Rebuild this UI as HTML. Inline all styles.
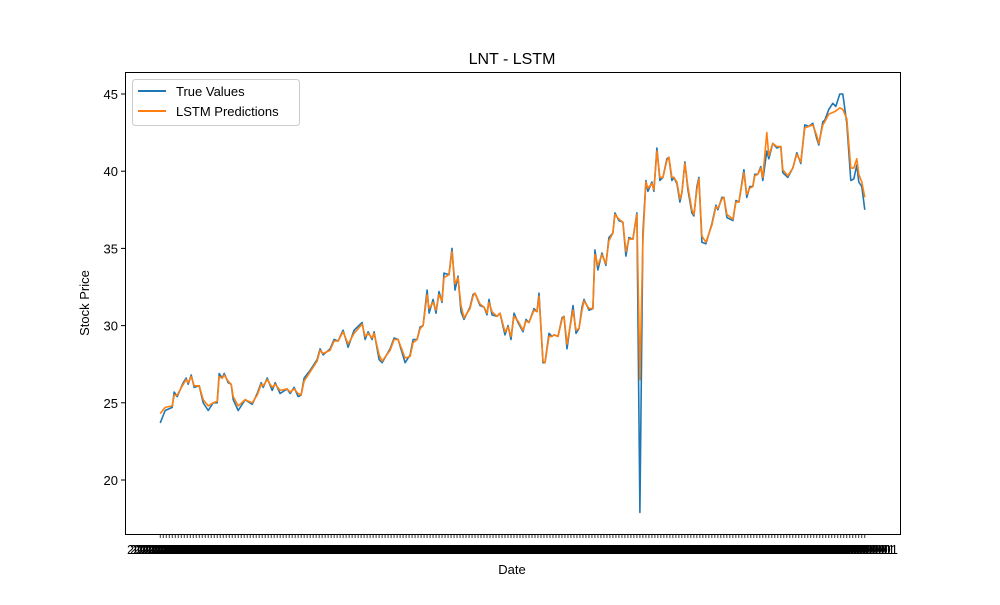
<!DOCTYPE html>
<html><head><meta charset="utf-8"><style>
body{margin:0;background:#fff;}
svg text{font-family:"Liberation Sans","DejaVu Sans",sans-serif;fill:#000;}
</style></head><body>
<svg id="chart" width="1000" height="600" xmlns="http://www.w3.org/2000/svg">
<rect width="1000" height="600" fill="#fff"/>
<text x="512" y="64" font-size="16" text-anchor="middle">LNT - LSTM</text>
<text x="512" y="574" font-size="13" text-anchor="middle">Date</text>
<text x="89" y="303" font-size="13" text-anchor="middle" transform="rotate(-90 89 303)">Stock Price</text>
<g id="ticks"></g>
<g id="series"></g>
<rect x="125.5" y="72.5" width="775" height="462" fill="none" stroke="#000" stroke-width="1"/>
<g>
<rect x="132.5" y="79.5" width="167" height="46" rx="3" fill="#fff" fill-opacity="0.8" stroke="#ccc"/>
<line x1="138" y1="91" x2="166" y2="91" stroke="#1f77b4" stroke-width="2"/>
<text x="176" y="96" font-size="13">True Values</text>
<line x1="138" y1="111" x2="166" y2="111" stroke="#ff7f0e" stroke-width="2"/>
<text x="176" y="116" font-size="13">LSTM Predictions</text>
</g>
</svg>
<script>
const days=[0,5,12,14,17,23,26,28,31,34,39,43,48,53,57,59,62,64,68,71,73,78,85,92,97,101,103,107,112,115,120,127,130,134,138,141,144,150,157,160,163,170,174,178,183,188,194,202,205,208,212,214,219,222,230,234,238,245,250,253,257,260,263,267,269,273,276,279,282,284,289,292,295,298,301,304,310,313,315,320,324,327,329,332,337,340,345,348,351,354,358,363,366,369,374,377,379,383,385,389,392,394,398,402,404,407,413,416,419,422,424,429,433,435,438,442,446,449,453,455,459,463,466,469,473,477,480,483,486,488,492,494,497,500,503,507,509,512,514,517,520,522,525,528,532,534,537,539,542,546,552,556,558,562,564,567,573,576,579,584,587,590,593,595,598,601,603,607,609,613,617,621,623,628,633,637,641,645,649,653,657,659,663,665,669,673,676,680,683,687,691,694,697,699,702,705];
const trueVals=[23.7,24.5,24.7,25.7,25.4,26.3,26.6,26.2,26.8,26.0,26.1,25.0,24.5,25.0,25.0,26.9,26.6,26.9,26.3,26.2,25.2,24.5,25.2,24.9,25.6,26.3,26.0,26.6,25.8,26.3,25.6,25.9,25.6,26.0,25.4,25.5,26.6,27.1,27.8,28.5,28.1,28.5,29.1,29.0,29.7,28.6,29.7,30.2,29.1,29.6,29.1,29.6,27.8,27.6,28.5,29.2,29.1,27.6,28.1,29.1,29.1,29.9,30.0,32.3,30.8,31.7,30.8,32.2,31.5,33.4,33.3,35.0,32.3,33.2,30.9,30.4,31.2,32.0,32.1,31.3,31.2,30.7,31.7,30.7,30.6,30.8,29.4,30.0,29.1,30.8,30.2,29.6,30.4,30.2,31.1,30.9,32.1,27.6,27.6,29.5,29.3,29.4,29.3,30.5,30.6,28.5,31.3,29.5,29.8,31.2,31.7,31.0,31.1,34.9,33.6,34.7,33.9,35.7,36.0,37.3,36.8,36.7,34.5,35.7,35.6,37.3,17.9,36.0,39.4,38.7,39.3,38.7,41.5,39.4,39.6,40.8,40.9,39.4,39.6,39.2,38.0,38.6,40.6,38.8,37.3,37.1,39.0,39.6,35.4,35.3,36.6,37.8,37.5,38.3,38.3,37.0,36.8,38.1,38.0,40.1,38.3,39.0,39.0,39.8,39.8,40.3,39.4,41.3,40.8,41.8,41.5,41.6,39.9,39.6,40.2,41.2,40.5,43.0,42.9,43.1,42.1,41.7,43.2,43.3,44.0,44.4,44.2,45.0,45.0,43.1,39.4,39.5,40.4,39.3,39.0,37.5];
const predVals=[24.3,24.7,24.8,25.5,25.5,26.2,26.5,26.3,26.7,26.1,26.1,25.2,24.8,25.0,25.1,26.7,26.6,26.8,26.4,26.2,25.4,24.8,25.2,25.0,25.5,26.2,26.1,26.5,26.0,26.2,25.8,25.9,25.7,25.9,25.6,25.5,26.4,27.0,27.7,28.4,28.2,28.4,29.0,29.0,29.6,28.8,29.5,30.1,29.3,29.5,29.2,29.5,28.1,27.7,28.4,29.1,29.1,27.9,28.0,28.9,29.1,29.8,30.0,32.0,31.1,31.5,31.0,32.0,31.6,33.1,33.3,34.8,32.7,33.1,31.3,30.5,31.1,31.9,32.1,31.4,31.2,30.8,31.5,30.9,30.6,30.8,29.6,29.9,29.3,30.6,30.3,29.7,30.3,30.2,31.0,30.9,31.9,27.7,27.6,29.3,29.3,29.4,29.3,30.4,30.6,28.8,31.0,29.7,29.8,31.0,31.6,31.1,31.1,34.6,33.9,34.6,34.0,35.5,36.0,37.2,36.9,36.7,34.8,35.6,35.6,37.2,26.5,35.5,39.3,38.9,39.2,38.8,41.3,39.6,39.6,40.7,40.9,39.6,39.6,39.3,38.2,38.6,40.5,39.0,37.5,37.2,38.8,39.5,35.8,35.4,36.5,37.7,37.6,38.2,38.3,37.2,36.9,38.0,38.0,39.9,38.5,38.9,39.0,39.7,39.8,40.2,39.6,42.5,41.0,41.8,41.6,41.6,40.1,39.7,40.2,41.1,40.6,42.8,42.9,43.0,42.3,41.8,43.0,43.2,43.7,43.8,43.9,44.1,44.0,43.4,40.2,40.2,40.8,39.8,39.3,38.3];
const yTicks=[20,25,30,35,40,45];
const tickCount=236;

const X0=125,X1=900,Y0=72,Y1=534;
const dMin=0,dMax=705,pad=(dMax-dMin)*0.05;
function xs(d){return X0+(d-(dMin-pad))/((dMax-dMin)+2*pad)*(X1-X0);}
function ys(v){return 94+(45-v)*15.44;}
const NS='http://www.w3.org/2000/svg';
const tg=document.getElementById('ticks'), sg=document.getElementById('series');
yTicks.forEach(v=>{
 const l=document.createElementNS(NS,'line');
 l.setAttribute('x1',X0-4);l.setAttribute('x2',X0);l.setAttribute('y1',ys(v));l.setAttribute('y2',ys(v));l.setAttribute('stroke','#000');
 
 
 tg.appendChild(l);
 const t=document.createElementNS(NS,'text');
 t.setAttribute('x',X0-7);t.setAttribute('y',ys(v)+5);t.setAttribute('font-size','13');t.setAttribute('text-anchor','end');
 t.textContent=v;
 
 
 tg.appendChild(t);
});
for(let i=0;i<tickCount;i++){
 const x=xs(dMin+(dMax-dMin)*i/(tickCount-1));
 const l=document.createElementNS(NS,'line');
 l.setAttribute('x1',x);l.setAttribute('x2',x);l.setAttribute('y1',Y1);l.setAttribute('y2',Y1+4);l.setAttribute('stroke','#000');l.setAttribute('stroke-width','0.8');
 
 
 tg.appendChild(l);
 const t=document.createElementNS(NS,'text');
 t.setAttribute('x',x);t.setAttribute('y',Y1+20);t.setAttribute('font-size','13');t.setAttribute('text-anchor','middle');
 t.textContent='2023-01-01';
 
 
 tg.appendChild(t);
}
function path(vals,color,name){
 const p=document.createElementNS(NS,'path');
 p.setAttribute('d',vals.map((v,i)=>(i?'L':'M')+xs(days[i]).toFixed(1)+','+ys(v).toFixed(1)).join(''));
 p.setAttribute('fill','none');p.setAttribute('stroke',color);p.setAttribute('stroke-width','1.6');p.setAttribute('stroke-linejoin','round');
 
 
 sg.appendChild(p);
}
path(trueVals,'#1f77b4','true-values-line');
path(predVals,'#ff7f0e','lstm-predictions-line');
</script>
</body></html>
